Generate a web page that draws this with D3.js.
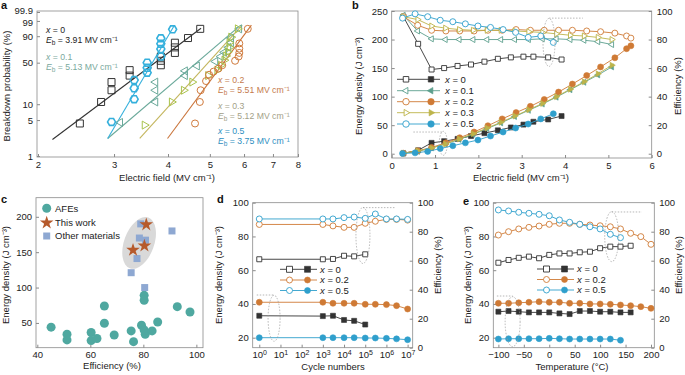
<!DOCTYPE html>
<html>
<head>
<meta charset="utf-8">
<script src="https://cdn.jsdelivr.net/npm/d3@7"></script>
<style>
  body { margin: 0; background: #fff; }
  text { font-family: "Liberation Sans", Arial, Helvetica, sans-serif; }
</style>
</head>
<body>
<script>
// ---------- panel a : Weibull plots ----------
const aTicksX = [2, 3, 4, 5, 6, 7, 8];
const aTicksY = [1, 5, 10, 50, 90, 99, 99.9];
const aTickLabelsY = ["1", "5", "10", "50", "90", "99", "99.9"];

const aE0 = [2.5, 2.8, 2.96, 2.96, 3.26, 3.26, 3.85, 3.85, 3.85, 4.15, 4.15, 4.15, 4.45, 4.75];
const aP0 = [4.3, 11, 18, 25, 32, 39, 46, 53, 60, 66, 75, 82, 88, 96];
const aE1 = [3.1, 3.74, 3.74, 3.74, 4.38, 4.38, 4.67, 5.15, 5.3, 5.4, 5.52, 5.6, 5.6, 5.85];
const aP1 = [4.5, 11, 18, 25, 32, 38, 45, 52, 60, 67, 75, 82, 88, 96];
const aE2 = [4.62, 4.74, 4.76, 4.9, 4.98, 5.1, 5.23, 5.34, 5.72, 5.83, 5.85, 5.85, 5.85, 6.12];
const aP2 = [4.3, 11, 18, 26, 33, 37, 41, 46, 53, 60, 66, 73, 81, 96];
const aE3 = [3.53, 4.08, 4.35, 4.55, 4.95, 5.2, 5.3, 5.4, 5.45, 5.5, 5.55, 5.55, 5.6, 5.8];
const aP3 = [4, 11, 18, 25, 32, 39, 46, 54, 61, 68, 75, 82, 89, 96];
const aE5 = [2.96, 3.34, 3.34, 3.34, 3.58, 3.58, 3.58, 3.85, 3.85, 3.85, 3.85, 4.1];
const aP5 = [4.6, 12.4, 19.5, 27, 35.6, 42.3, 50, 60, 72.5, 80.6, 87.7, 95.7];

// fitted lines: [E, P] at both ends
const aFit0 = [[2.16, 2.1], [4.77, 96.3]];
const aFit1 = [[2.9, 2.2], [5.83, 97]];
const aFit2 = [[3.99, 2.2], [6.24, 97.8]];
const aFit3 = [[3.44, 2.2], [5.94, 97.8]];
const aFit5 = [[2.9, 2.2], [4.13, 97.4]];

// ---------- panel b : energy density / efficiency vs field ----------
const bE0 = [0.27, 0.61, 0.92, 1.21, 1.52, 1.83, 2.14, 2.45, 2.75, 3.04, 3.27, 3.61, 3.92];
const bEff0 = [96, 77, 59, 60, 61.5, 62.5, 64.5, 66.5, 67.5, 68, 68, 67.5, 66];
const bJ0 = [0.5, 6, 19, 22, 26, 31, 36, 41, 46, 51, 56, 60, 66];

const bE1 = [0.27, 0.6, 0.92, 1.24, 1.56, 1.88, 2.2, 2.52, 2.84, 3.16, 3.48, 3.8, 4.12, 4.44, 4.76, 5.08];
const bEff1 = [97, 86, 80.5, 80, 80, 80, 80, 80, 80, 80, 80.5, 80.5, 80, 79.5, 78.5, 76.5];
const bJ1 = [1, 4, 10, 17, 25, 34, 44, 54, 65, 76, 87, 99, 112, 125, 138, 152];

const bE2 = [0.27, 0.6, 0.92, 1.25, 1.57, 1.9, 2.22, 2.55, 2.87, 3.2, 3.52, 3.85, 4.17, 4.5, 4.82, 5.15, 5.42, 5.52];
const bEff2 = [96, 90, 86.5, 86, 86, 86, 86.5, 86.5, 87, 86.5, 86.5, 86.5, 86.5, 86, 85.5, 84.5, 82.5, 81];
const bJ2 = [1, 5, 11, 19, 28, 38, 49, 61, 72, 83, 95, 108, 122, 137, 152, 168, 184, 189];

const bE3 = [0.27, 0.6, 0.92, 1.24, 1.56, 1.88, 2.2, 2.52, 2.84, 3.16, 3.48, 3.8, 4.12, 4.44, 4.76, 5.08];
const bEff3 = [96, 94, 89.5, 88, 87, 86.5, 86.5, 86.5, 86, 85.5, 85, 84, 83, 82.5, 81.5, 80];
const bJ3 = [1, 5, 10, 17, 26, 35, 45, 55, 66, 77, 88, 100, 113, 126, 140, 155];

const bE5 = [0.25, 0.54, 0.83, 1.12, 1.41, 1.7, 1.99, 2.28, 2.57, 2.86, 3.15, 3.44, 3.73];
const bEff5 = [95, 98, 96, 93.5, 92.5, 91, 89.5, 88.5, 87, 85, 81.5, 82.5, 78];
const bJ5 = [0.5, 1.5, 4, 9, 14, 19, 24, 31, 38, 45, 52, 61, 70];

// ---------- panel c : comparison scatter ----------
const cAFE = [[45.2, 44], [51.2, 34], [51.2, 26], [60.3, 36.5], [60.3, 25], [62.5, 28], [65.3, 74], [65.3, 49.6],
  [69, 33], [75.4, 38.7], [76.3, 23.5], [79.3, 46.8], [80.7, 34], [80.3, 40], [83.3, 38.7], [85.4, 51.4],
  [80.3, 89], [80.3, 82], [92.8, 73], [97.6, 65.5]];
const cThisWork = [[81.1, 189], [76.1, 153], [80.4, 159]];
const cOther = [[79, 190], [78.5, 170], [80.8, 167], [77.6, 141], [75.4, 121], [80.5, 100], [90.8, 180]];
const cTicksX = [40, 60, 80, 100];
const cTicksY = [50, 100, 150, 200];

// ---------- panel d : cycling ----------
const dCycles = [1, 1e3, 3e3, 1e4, 3e4, 1e5, 3e5, 1e6, 3e6, 1e7];
const dEff0 = [61, 61, 61.2, 63.4, 63, 64.4];
const dJ0 = [33, 32.8, 33, 30.5, 30, 27.8];
const dEff2 = [85, 85, 84, 83, 83, 85.8, 87.2, 88.5, 88.5, 88];
const dJ2 = [41, 41, 40.4, 40.4, 40.4, 39.8, 39.8, 39.6, 39, 37];
const dEff5 = [88.8, 88.8, 88.8, 89.7, 90.1, 89.2, 92.2, 88.8, 88.8, 88.5];
const dJ5 = [20, 20, 20, 20, 20, 19.8, 19.8, 19.6, 19.3, 18.8];

// ---------- panel e : temperature ----------
const eTemp = [-100, -80, -60, -40, -20, 0, 20, 40, 60, 80, 100, 120, 140, 160, 180, 200];
const eEff0 = [58.6, 60.5, 62, 62.8, 61.7, 64, 65, 65, 65.8, 66.2, 68.6, 69.7, 69.7, 70.3];
const eJ0 = [35.4, 35.8, 35.4, 35, 35, 35, 34.4, 34, 35.8, 35.8, 35.4, 35.4, 35, 35];
const eEff2 = [77.7, 80, 81.9, 83, 83.9, 85.1, 85.8, 85.8, 85.1, 84.6, 84.1, 83.4, 81.9, 78.9, 76.6, 71.3];
const eJ2 = [40.4, 40.4, 40.7, 41, 41.3, 41, 41, 40.4, 40.4, 40, 40, 39.8, 39.4, 39, 38.4, 37.4];
const eEff5 = [95, 94.3, 93.4, 92.7, 92, 91, 88.1, 86.5, 85.1, 83.4, 81.9, 78.2, 75.9];
const eJ5 = [19.2, 19.4, 19.4, 19.4, 19.4, 19.6, 19.4, 19.2, 19.2, 19.2, 19.2, 19.2, 18.5];

// ---------- drawing ----------
const black = "#333333", green = "#5c9f8d", orange = "#cf7a35", yellow = "#bdb44a", cyan = "#2f9fcc";
const frameColor = "#8a8a8a";
const fs = 9.5;

const svg = d3.select("body").append("svg")
  .attr("width", 685).attr("height", 375);

function symPath(shape, size) {
  if (shape === "hex") {
    const r = size / 2;
    const pts = d3.range(6).map(i => [r * Math.cos(Math.PI / 3 * i), r * Math.sin(Math.PI / 3 * i)]);
    return d3.line()(pts) + "Z";
  }
  if (shape === "square") return d3.symbol(d3.symbolSquare, size * size)();
  if (shape === "circle") return d3.symbol(d3.symbolCircle, Math.PI * size * size / 4)();
  if (shape === "star") return d3.symbol(d3.symbolStar, size * size * 0.4)();
  return d3.symbol(d3.symbolTriangle, Math.sqrt(3) / 4 * size * size)();
}
function symRot(shape) {
  if (shape === "triL") return -90;
  if (shape === "triR") return 90;
  return 0;
}
function drawMarkers(g, pts, shape, size, stroke, fill, sw) {
  g.selectAll(null).data(pts).enter().append("path")
    .attr("d", symPath(shape, size))
    .attr("transform", d => "translate(" + d[0] + "," + d[1] + ") rotate(" + symRot(shape) + ")")
    .attr("fill", fill)
    .attr("stroke", stroke)
    .attr("stroke-width", sw);
}
function frame(x0, y0, x1, y1) {
  svg.append("rect").attr("x", x0).attr("y", y0)
    .attr("width", x1 - x0).attr("height", y1 - y0)
    .attr("fill", "none").attr("stroke", frameColor).attr("stroke-width", 0.8);
}
function styleAxis(g) {
  g.select(".domain").remove();
  g.attr("font-size", fs).attr("font-family", "Liberation Sans, Arial, sans-serif");
  g.selectAll("line").attr("stroke", frameColor);
  g.selectAll("text").attr("fill", "#222");
}
function axisLabel(x, y, str, rot) {
  const t = svg.append("text")
    .attr("transform", "translate(" + x + "," + y + ")" + (rot ? " rotate(-90)" : ""))
    .attr("text-anchor", "middle").attr("font-size", fs).attr("fill", "#222");
  return t.text(str);
}
function panelLetter(x, y, s) {
  svg.append("text").attr("x", x).attr("y", y).attr("font-size", 11)
    .attr("font-weight", "bold").attr("fill", "#111").text(s);
}
function xEq(g, x, y, val, color, size) {
  const t = g.append("text").attr("x", x).attr("y", y)
    .attr("font-size", size || fs).attr("fill", color);
  t.append("tspan").attr("font-style", "italic").text("x");
  t.append("tspan").text(" = " + val);
}
function ebText(g, x, y, val, color, size) {
  const t = g.append("text").attr("x", x).attr("y", y)
    .attr("font-size", size || fs).attr("fill", color);
  t.append("tspan").attr("font-style", "italic").text("E");
  t.append("tspan").attr("dy", 2).attr("font-size", 6.5).text("b");
  t.append("tspan").attr("dy", -2).text(" = " + val + " MV cm\u207B\u00B9");
}

// ===== panel a =====
const wb = p => Math.log(-Math.log(1 - p / 100));
const xA = d3.scaleLog().domain([2, 8]).range([38, 298]);
const yA = d3.scaleLinear().domain([wb(1), wb(99.9)]).range([156, 12]);

frame(37, 11, 298, 157);
svg.append("g").attr("transform", "translate(37,0)")
  .call(d3.axisLeft(yA).tickValues(aTicksY.map(wb))
    .tickFormat((d, i) => aTickLabelsY[i]).tickSizeInner(-3).tickSizeOuter(0).tickPadding(4))
  .call(styleAxis)
  .selectAll(".tick text")
  .attr("dy", (d, i) => i === 6 ? "0.18em" : (i === 5 ? "0.5em" : "0.32em"));
svg.append("g").attr("transform", "translate(0,157)")
  .call(d3.axisBottom(xA).tickValues(aTicksX).tickFormat(d3.format("d"))
    .tickSizeInner(-3).tickSizeOuter(0).tickPadding(4))
  .call(styleAxis);

const gA = svg.append("g");
const aSeries = [
  { E: aE0, P: aP0, fit: aFit0, shape: "square", color: "#333", line: "#333", size: 7 },
  { E: aE1, P: aP1, fit: aFit1, shape: "triL", color: "#6aa99a", line: "#6aa99a", size: 8 },
  { E: aE3, P: aP3, fit: aFit3, shape: "triR", color: "#a9c24c", line: "#c4b65e", size: 8 },
  { E: aE2, P: aP2, fit: aFit2, shape: "circle", color: "#d07a3c", line: "#c9743a", size: 7 },
  { E: aE5, P: aP5, fit: aFit5, shape: "hex", color: "#35b0dc", line: "#35b0dc", size: 8 }
];
aSeries.forEach(s => {
  gA.append("path")
    .attr("d", d3.line().x(d => xA(d[0])).y(d => yA(wb(d[1])))(s.fit))
    .attr("fill", "none").attr("stroke", s.line).attr("stroke-width", 1.1);
});
aSeries.forEach(s => {
  const pts = s.E.map((e, i) => [xA(e), yA(wb(s.P[i]))]);
  drawMarkers(gA, pts, s.shape, s.size, s.color, "none", s.shape === "hex" ? 1.6 : 1);
});
const fa = 8.7;
xEq(gA, 46, 32.5, "0", "#222", fa);
ebText(gA, 46, 42.6, "3.91", "#222", fa);
xEq(gA, 46, 59.8, "0.1", "#7aa99d", fa);
ebText(gA, 46, 69.9, "5.13", "#7aa99d", fa);
xEq(gA, 218, 83, "0.2", "#c47a4c", fa);
ebText(gA, 218, 93.1, "5.51", "#c47a4c", fa);
xEq(gA, 218, 108.6, "0.3", "#a39f88", fa);
ebText(gA, 218, 118.8, "5.12", "#a39f88", fa);
xEq(gA, 218, 134, "0.5", "#2e8ec0", fa);
ebText(gA, 218, 144.2, "3.75", "#2e8ec0", fa);

axisLabel(10, 86, "Breakdown probability (%)", true);
axisLabel(167, 181, "Electric field (MV cm\u207B\u00B9)");
panelLetter(1, 9, "a");

// ===== panel b =====
const xB = d3.scaleLinear().domain([0, 6]).range([391.7, 651.7]);
const yBL = d3.scaleLinear().domain([-7.5, 250]).range([158, 11]);
const yBR = d3.scaleLinear().domain([-3, 100]).range([158, 11]);

frame(391.7, 11, 651.7, 158);
svg.append("g").attr("transform", "translate(391.7,0)")
  .call(d3.axisLeft(yBL).tickValues([0, 50, 100, 150, 200, 250]).tickSizeInner(-3).tickSizeOuter(0).tickPadding(4))
  .call(styleAxis);
svg.append("g").attr("transform", "translate(651.7,0)")
  .call(d3.axisRight(yBR).tickValues([0, 20, 40, 60, 80, 100]).tickSizeInner(-3).tickSizeOuter(0).tickPadding(5))
  .call(styleAxis);
svg.append("g").attr("transform", "translate(0,158)")
  .call(d3.axisBottom(xB).ticks(6).tickSizeInner(-3).tickSizeOuter(0).tickPadding(4))
  .call(styleAxis);

const gB = svg.append("g");
const bSeries = [
  { E: bE0, eff: bEff0, J: bJ0, shape: "square", color: black, size: 5, label: "0" },
  { E: bE1, eff: bEff1, J: bJ1, shape: "triL", color: green, size: 6, label: "0.1" },
  { E: bE2, eff: bEff2, J: bJ2, shape: "circle", color: orange, size: 6, label: "0.2" },
  { E: bE3, eff: bEff3, J: bJ3, shape: "triR", color: yellow, size: 6, label: "0.3" },
  { E: bE5, eff: bEff5, J: bJ5, shape: "circle", color: cyan, size: 6, label: "0.5" }
];
bSeries.forEach(s => {
  const pe = s.E.map((e, i) => [xB(e), yBR(s.eff[i])]);
  gB.append("path").attr("d", d3.line()(pe)).attr("fill", "none")
    .attr("stroke", s.color).attr("stroke-width", 0.9);
  drawMarkers(gB, pe, s.shape, s.size, s.color, "#fff", 0.9);
});
bSeries.forEach(s => {
  const pj = s.E.map((e, i) => [xB(e), yBL(s.J[i])]);
  gB.append("path").attr("d", d3.line()(pj)).attr("fill", "none")
    .attr("stroke", s.color).attr("stroke-width", 0.9);
  drawMarkers(gB, pj, s.shape, s.size, s.color, s.color, 0.6);
});
// legend
const bLegY = [79.3, 90.7, 101.7, 112.7, 124];
bSeries.forEach((s, i) => {
  const y = bLegY[i];
  gB.append("line").attr("x1", 397).attr("x2", 440).attr("y1", y).attr("y2", y)
    .attr("stroke", s.color).attr("stroke-width", 0.9);
  drawMarkers(gB, [[406, y]], s.shape, s.size + 0.5, s.color, "#fff", 0.9);
  drawMarkers(gB, [[431, y]], s.shape, s.size + 0.5, s.color, s.color, 0.6);
  xEq(gB, 445, y + 3.4, s.label, "#222");
});

// dotted guides
function guide(g, cx, cy, rx, ry, x1, x2, ly, rot) {
  g.append("ellipse").attr("cx", cx).attr("cy", cy).attr("rx", rx).attr("ry", ry)
    .attr("transform", rot ? "rotate(" + rot + "," + cx + "," + cy + ")" : null)
    .attr("fill", "none").attr("stroke", "#999").attr("stroke-width", 0.7).attr("stroke-dasharray", "1.5,1.5");
  g.append("line").attr("x1", x1).attr("x2", x2).attr("y1", ly).attr("y2", ly)
    .attr("stroke", "#999").attr("stroke-width", 0.7).attr("stroke-dasharray", "1.5,1.5");
}
guide(gB, xB(3.63), yBR(78), 6, 24, xB(3.63), xB(4.41), yBR(95));
guide(gB, xB(1.19), yBL(18.2), 4, 12, xB(0.5), xB(1.19), yBL(38));

axisLabel(362, 86, "Energy density (J cm\u207B\u00B3)", true);
axisLabel(681, 86, "Efficiency (%)", true);
axisLabel(521, 181, "Electric field (MV cm\u207B\u00B9)");
panelLetter(352, 9, "b");

// ===== panel c =====
const xC = d3.scaleLinear().domain([39.5, 102.5]).range([36, 203]);
const yC = d3.scaleLinear().domain([15, 227]).range([347.7, 197.7]);
frame(36, 197.7, 203, 347.7);
svg.append("g").attr("transform", "translate(36,0)")
  .call(d3.axisLeft(yC).tickValues(cTicksY).tickSizeInner(-3).tickSizeOuter(0).tickPadding(4))
  .call(styleAxis);
svg.append("g").attr("transform", "translate(0,347.7)")
  .call(d3.axisBottom(xC).tickValues(cTicksX).tickSizeInner(-3).tickSizeOuter(0).tickPadding(4))
  .call(styleAxis);

const gC = svg.append("g");
gC.append("ellipse").attr("cx", xC(78.4)).attr("cy", yC(163)).attr("rx", 15).attr("ry", 27)
  .attr("transform", "rotate(20," + xC(78.4) + "," + yC(163) + ")")
  .attr("fill", "#d9d9d9");
drawMarkers(gC, cAFE.map(d => [xC(d[0]), yC(d[1])]), "circle", 9, "none", "#4fa8a0", 0);
drawMarkers(gC, cOther.map(d => [xC(d[0]), yC(d[1])]), "square", 7, "none", "#8ea8d2", 0);
drawMarkers(gC, cThisWork.map(d => [xC(d[0]), yC(d[1])]), "star", 12, "none", "#b65a2c", 0);
// legend
drawMarkers(gC, [[46.7, 208.3]], "circle", 9, "none", "#4fa8a0", 0);
drawMarkers(gC, [[46.7, 222.8]], "star", 12, "none", "#b65a2c", 0);
drawMarkers(gC, [[46.7, 236]], "square", 7, "none", "#8ea8d2", 0);
[["AFEs", 211.6], ["This work", 226], ["Other materials", 239.4]].forEach(d => {
  gC.append("text").attr("x", 55).attr("y", d[1]).attr("font-size", fs).attr("fill", "#222").text(d[0]);
});
axisLabel(9, 275, "Energy density (J cm\u207B\u00B3)", true);
axisLabel(112, 369, "Efficiency (%)");
panelLetter(1, 203, "c");

// ===== panel d =====
const xD = d3.scaleLog().domain([Math.pow(10, -0.31), Math.pow(10, 7.24)]).range([252.7, 412.7]);
const yDL = d3.scaleLinear().domain([14.07, 100]).range([347.7, 202.7]);
const yDR = d3.scaleLinear().domain([0, 100]).range([347.7, 202.7]);
frame(252.7, 202.7, 412.7, 347.7);
svg.append("g").attr("transform", "translate(252.7,0)")
  .call(d3.axisLeft(yDL).tickValues([20, 40, 60, 80, 100]).tickSizeInner(-3).tickSizeOuter(0).tickPadding(4))
  .call(styleAxis);
svg.append("g").attr("transform", "translate(412.7,0)")
  .call(d3.axisRight(yDR).tickValues([0, 20, 40, 60, 80, 100]).tickSizeInner(-3).tickSizeOuter(0).tickPadding(5))
  .call(styleAxis);
svg.append("g").attr("transform", "translate(0,347.7)")
  .call(d3.axisBottom(xD).tickValues([1, 10, 100, 1e3, 1e4, 1e5, 1e6, 1e7]).tickFormat(() => "")
    .tickSizeInner(-3).tickSizeOuter(0).tickPadding(4))
  .call(styleAxis)
  .selectAll(".tick text")
  .each(function(d) {
    const t = d3.select(this);
    t.append("tspan").text("10");
    t.append("tspan").attr("dy", "-0.45em").attr("font-size", 7).text(Math.round(Math.log10(d)));
  });

function drawPair(g, xs, xScale, eff, J, yL, yR, shape, color) {
  const pe = eff.map((v, i) => [xScale(xs[i]), yR(v)]);
  const pj = J.map((v, i) => [xScale(xs[i]), yL(v)]);
  g.append("path").attr("d", d3.line()(pe)).attr("fill", "none").attr("stroke", color).attr("stroke-width", 0.9);
  g.append("path").attr("d", d3.line()(pj)).attr("fill", "none").attr("stroke", color).attr("stroke-width", 0.9);
  drawMarkers(g, pe, shape, shape === "square" ? 5 : 6, color, "#fff", 0.9);
  drawMarkers(g, pj, shape, shape === "square" ? 5 : 6, color, color, 0.6);
}
const gD = svg.append("g");
drawPair(gD, dCycles, xD, dEff0, dJ0, yDL, yDR, "square", black);
drawPair(gD, dCycles, xD, dEff2, dJ2, yDL, yDR, "circle", orange);
drawPair(gD, dCycles, xD, dEff5, dJ5, yDL, yDR, "circle", cyan);
guide(gD, xD(5), yDL(31.5), 6, 23, xD(0.76), xD(5), yDL(45.3));
guide(gD, xD(7.8e4), yDR(77.4), 7, 28, xD(7.8e4), xD(2.5e6), yDR(96.6));

function smallLegend(g, x0, ys, entries) {
  entries.forEach((s, i) => {
    const y = ys[i];
    g.append("line").attr("x1", x0).attr("x2", x0 + 37).attr("y1", y).attr("y2", y)
      .attr("stroke", s.color).attr("stroke-width", 0.9);
    drawMarkers(g, [[x0 + 9.5, y]], s.shape, 6, s.color, "#fff", 0.9);
    drawMarkers(g, [[x0 + 27.5, y]], s.shape, 6, s.color, s.color, 0.6);
    xEq(g, x0 + 40, y + 3.4, s.label, "#222");
  });
}
const dLegend = [
  { shape: "square", color: black, label: "0" },
  { shape: "circle", color: orange, label: "0.2" },
  { shape: "circle", color: cyan, label: "0.5" }
];
smallLegend(gD, 280, [269.3, 280, 290.5], dLegend);
axisLabel(222, 275, "Energy density (J cm\u207B\u00B3)", true);
axisLabel(441, 265, "Efficiency (%)", true);
axisLabel(333, 370, "Cycle numbers");
panelLetter(217, 203, "d");

// ===== panel e =====
const xE = d3.scaleLinear().domain([-110, 206.5]).range([493.3, 654.3]);
frame(493.3, 202.7, 654.3, 347.7);
svg.append("g").attr("transform", "translate(493.3,0)")
  .call(d3.axisLeft(yDL).tickValues([20, 40, 60, 80, 100]).tickSizeInner(-3).tickSizeOuter(0).tickPadding(4))
  .call(styleAxis);
svg.append("g").attr("transform", "translate(654.3,0)")
  .call(d3.axisRight(yDR).tickValues([0, 20, 40, 60, 80, 100]).tickSizeInner(-3).tickSizeOuter(0).tickPadding(5))
  .call(styleAxis);
svg.append("g").attr("transform", "translate(0,347.7)")
  .call(d3.axisBottom(xE).tickValues([-100, -50, 0, 50, 100, 150, 200])
    .tickFormat(d => d < 0 ? "\u2212" + Math.abs(d) : d)
    .tickSizeInner(-3).tickSizeOuter(0).tickPadding(4))
  .call(styleAxis);

const gE = svg.append("g");
drawPair(gE, eTemp, xE, eEff0, eJ0, yDL, yDR, "square", black);
drawPair(gE, eTemp, xE, eEff2, eJ2, yDL, yDR, "circle", orange);
drawPair(gE, eTemp, xE, eEff5, eJ5, yDL, yDR, "circle", cyan);
guide(gE, xE(-72), yDL(29.5), 7.5, 25, xE(-103), xE(-72), yDL(44.7));
guide(gE, xE(122.8), yDR(76.6), 7, 25, xE(122.8), xE(182), yDR(93.6));
smallLegend(gE, 537, [269, 279.5, 290], dLegend);
axisLabel(471, 275, "Energy density (J cm\u207B\u00B3)", true);
axisLabel(682, 265, "Efficiency (%)", true);
axisLabel(572, 370, "Temperature (\u00B0C)");
panelLetter(463, 205, "e");
</script>
</body>
</html>
